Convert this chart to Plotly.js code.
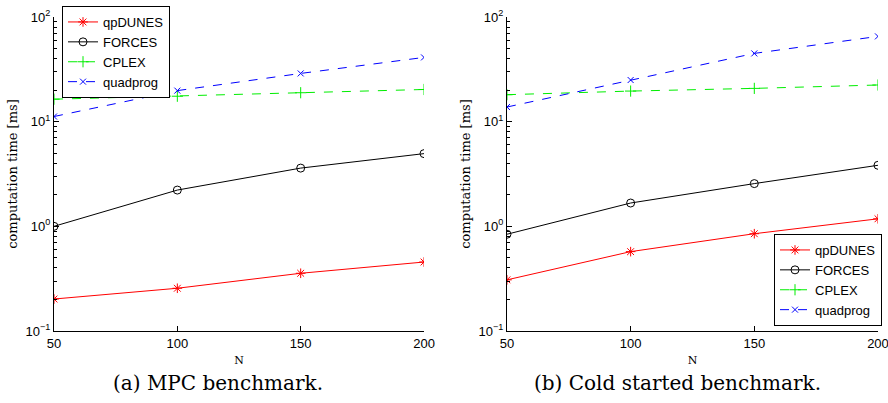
<!DOCTYPE html>
<html>
<head>
<meta charset="utf-8">
<script src="https://cdn.plot.ly/plotly-3.0.1.min.js"></script>
<style>html,body{margin:0;padding:0;background:#fff;}#chart{width:888px;height:403px;}</style>
</head>
<body>
<div id="chart"></div>
<script>
var N = [50, 100, 150, 200];
var seriesNames = ['qpDUNES', 'FORCES', 'CPLEX', 'quadprog'];
// (a) MPC benchmark
var mpc_qpDUNES = [0.202, 0.256, 0.356, 0.456];
var mpc_FORCES = [1.0, 2.22, 3.6, 4.95];
var mpc_CPLEX = [16.4, 17.5, 18.9, 20.3];
var mpc_quadprog = [11.2, 19.8, 28.9, 41.1];
// (b) Cold started benchmark
var cold_qpDUNES = [0.308, 0.573, 0.85, 1.18];
var cold_FORCES = [0.84, 1.67, 2.56, 3.83];
var cold_CPLEX = [18.1, 19.6, 20.8, 22.4];
var cold_quadprog = [13.8, 25.0, 44.9, 65.3];
var yTickVals = [0.1, 1, 10, 100];
var yTickText = ['10<sup>\u22121</sup>', '10<sup>0</sup>', '10<sup>1</sup>', '10<sup>2</sup>'];
var xTickVals = [50, 100, 150, 200];
var captions = ['(a) MPC benchmark.', '(b) Cold started benchmark.'];
var yTitle = 'computation time [ms]';
var xTitle = 'N';

var styles = [
  {color: '#ff0000', symbol: 'asterisk-open', dash: 'solid', size: 8},
  {color: '#000000', symbol: 'circle-open', dash: 'solid', size: 8},
  {color: '#00ee00', symbol: 'cross-thin-open', dash: 'dash', size: 8},
  {color: '#0000ff', symbol: 'x-thin-open', dash: 'dash', size: 6}
];

var minorVals = [];
for (var e = -1; e < 2; e++) {
  for (var m = 2; m <= 9; m++) minorVals.push(m * yTickVals[e + 1]);
}

function mk(vals, i, xa, ya, leg) {
  var s = styles[i];
  return {
    x: N, y: vals, name: seriesNames[i], type: 'scatter', mode: 'lines+markers',
    xaxis: xa, yaxis: ya, legend: leg,
    line: {color: s.color, width: 1, dash: s.dash},
    marker: {symbol: s.symbol, size: s.size, color: s.color, line: {color: s.color, width: 1}}
  };
}

var data = [
  mk(mpc_qpDUNES, 0, 'x', 'y', 'legend'),
  mk(mpc_FORCES, 1, 'x', 'y', 'legend'),
  mk(mpc_CPLEX, 2, 'x', 'y', 'legend'),
  mk(mpc_quadprog, 3, 'x', 'y', 'legend'),
  mk(cold_qpDUNES, 0, 'x2', 'y2', 'legend2'),
  mk(cold_FORCES, 1, 'x2', 'y2', 'legend2'),
  mk(cold_CPLEX, 2, 'x2', 'y2', 'legend2'),
  mk(cold_quadprog, 3, 'x2', 'y2', 'legend2')
];

var tickFont = {family: 'Liberation Sans, Arial, sans-serif', size: 13, color: '#000'};
var serif = 'DejaVu Serif, Liberation Serif, serif';
var yDomain = [0.1787, 0.9578];

function xax(dom, anchor) {
  return {
    domain: dom, anchor: anchor, range: [50, 200], tickvals: xTickVals,
    ticks: 'inside', ticklen: 5, tickcolor: '#000', tickwidth: 1,
    showline: true, linecolor: '#000', linewidth: 1, mirror: false,
    showgrid: false, zeroline: false, tickfont: tickFont, ticklabeloverflow: 'allow',
    title: {text: xTitle, font: {family: serif, size: 11, color: '#000'}, standoff: 6}
  };
}
function yax(anchor) {
  return {
    domain: yDomain, anchor: anchor, type: 'log', range: [-1, 2],
    tickmode: 'array', tickvals: yTickVals, ticktext: yTickText,
    ticks: 'inside', ticklen: 5, tickcolor: '#000', tickwidth: 1,
    minor: {tickmode: 'array', tickvals: minorVals, ticks: 'inside', ticklen: 3, tickcolor: '#000', tickwidth: 1, showgrid: false},
    showline: true, linecolor: '#000', linewidth: 1, mirror: false,
    showgrid: false, zeroline: false, tickfont: tickFont,
    title: {text: yTitle, font: {family: serif, size: 13, color: '#000'}, standoff: 4}
  };
}

var legendBase = {
  bgcolor: '#fff', bordercolor: '#000', borderwidth: 1,
  font: {family: 'Liberation Sans, Arial, sans-serif', size: 13, color: '#000'},
  itemwidth: 30, tracegroupgap: 0
};

var layout = {
  width: 888, height: 403,
  margin: {l: 0, r: 0, t: 0, b: 0},
  paper_bgcolor: '#fff', plot_bgcolor: '#fff',
  showlegend: true,
  xaxis: xax([0.0608, 0.4775], 'y'),
  yaxis: yax('x'),
  xaxis2: xax([0.5709, 0.9887], 'y2'),
  yaxis2: yax('x2'),
  legend: Object.assign({x: 62 / 888, xanchor: 'left', y: 1 - 6 / 403, yanchor: 'top'}, legendBase),
  legend2: Object.assign({x: 882 / 888, xanchor: 'right', y: 1 - 326 / 403, yanchor: 'bottom'}, legendBase),
  annotations: [
    {text: captions[0], xref: 'paper', yref: 'paper', x: 218 / 888, y: 1 - 383 / 403, xanchor: 'center', yanchor: 'middle', showarrow: false, font: {family: serif, size: 20, color: '#000'}},
    {text: captions[1], xref: 'paper', yref: 'paper', x: 677 / 888, y: 1 - 383 / 403, xanchor: 'center', yanchor: 'middle', showarrow: false, font: {family: serif, size: 20, color: '#000'}}
  ]
};

Plotly.newPlot('chart', data, layout, {displayModeBar: false, staticPlot: true});
</script>
</body>
</html>
